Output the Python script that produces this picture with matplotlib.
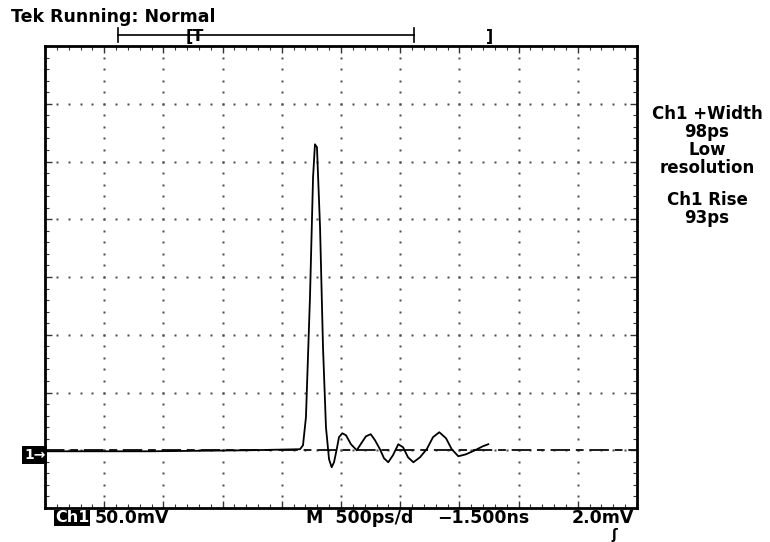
import numpy as np
import matplotlib
matplotlib.use('Agg')
import matplotlib.pyplot as plt
from matplotlib.lines import Line2D

# waveform: time (ns from left edge), amplitude (mV above ground)
time_ns = [0.0, 0.887, 1.731, 2.154, 2.179, 2.204, 2.238, 2.264, 2.280, 2.297,
           2.323, 2.348, 2.373, 2.399, 2.421, 2.441, 2.464, 2.483, 2.511, 2.542,
           2.584, 2.633, 2.677, 2.711, 2.751, 2.787, 2.829, 2.863, 2.899, 2.939,
           2.984, 3.024, 3.066, 3.111, 3.167, 3.224, 3.277, 3.330, 3.387, 3.435,
           3.491, 3.556, 3.632, 3.699, 3.744]
volt_mv = [-0.9, -0.9, 0.0, 0.9, 4.3, 28.6, 132.5, 236.4, 264.9, 262.3,
           193.1, 89.2, 19.9, -7.8, -14.7, -10.4, 0.9, 11.3, 14.7, 13.0,
           5.2, 0.0, 6.9, 12.1, 13.9, 8.7, 0.9, -6.9, -10.4, -4.3,
           5.2, 2.6, -6.1, -10.4, -6.1, 0.9, 11.3, 15.6, 10.4, 0.9,
           -5.2, -3.5, 0.0, 3.5, 5.2]

ns_per_div = 0.5
mv_per_div = 50.0
n_xdiv = 10
n_ydiv = 8
ground_mv = 0.0

W, H = 770, 542


def px(x, y):
    # pixel position -> figure fraction
    return x / W, 1 - y / H


fig = plt.figure(figsize=(W / 100, H / 100), dpi=100)
fig.patch.set_facecolor('white')
ax = fig.add_axes([45 / W, 1 - 508 / H, 592 / W, 462 / H])

x0, x1 = 0, n_xdiv * ns_per_div
y0, y1 = ground_mv - mv_per_div, ground_mv + (n_ydiv - 1) * mv_per_div
ax.set_xlim(x0, x1)
ax.set_ylim(y0, y1)

# dotted graticule
for i in range(1, n_xdiv):
    xs = i * ns_per_div
    ys = np.arange(y0, y1 + 0.1, mv_per_div / 5)
    ax.plot(np.full_like(ys, xs), ys, ls='none', marker='s', ms=1.8,
            color='0.3', mec='none')
for j in range(1, n_ydiv):
    ys = y0 + j * mv_per_div
    xs = np.arange(x0, x1 + 0.001, ns_per_div / 5)
    ax.plot(xs, np.full_like(xs, ys), ls='none', marker='s', ms=1.8,
            color='0.3', mec='none')

# ground reference + trace
ax.plot([x0, x1], [ground_mv, ground_mv], color='0.1', lw=1.4,
        dashes=(10, 3, 4, 3))
ax.plot(time_ns, volt_mv, color='black', lw=1.3)

ax.set_xticks(np.arange(x0, x1 + 0.001, ns_per_div))
ax.set_xticks(np.arange(x0, x1 + 0.001, ns_per_div / 5), minor=True)
ax.set_yticks(np.arange(y0, y1 + 0.1, mv_per_div))
ax.set_yticks(np.arange(y0, y1 + 0.1, mv_per_div / 5), minor=True)
ax.tick_params(which='both', direction='in', top=True, right=True,
               labelbottom=False, labelleft=False, color='0.2')
ax.tick_params(which='major', length=5, width=1)
ax.tick_params(which='minor', length=3, width=0.8)
for s in ax.spines.values():
    s.set_linewidth(2)

bold = dict(fontweight='bold', family='DejaVu Sans', color='black')

fig.text(*px(11, 17), 'Tek Running: Normal', fontsize=12.5, va='center', **bold)

# record / trigger position bar
fig.add_artist(Line2D([118 / W, 414 / W], [1 - 35 / H] * 2, color='black', lw=1.2))
for xb in (118, 414):
    fig.add_artist(Line2D([xb / W] * 2, [1 - 28 / H, 1 - 42 / H], color='black', lw=1.2))
fig.text(*px(186, 36), '[T', fontsize=11.5, va='center', **bold)
fig.text(*px(486, 36), ']', fontsize=11.5, va='center', **bold)

# measurements
fig.text(*px(707, 141), 'Ch1 +Width\n98ps\nLow\nresolution', fontsize=12,
         ha='center', va='center', linespacing=1.0, **bold)
fig.text(*px(707, 209), 'Ch1 Rise\n93ps', fontsize=12,
         ha='center', va='center', linespacing=1.0, **bold)

# ground marker
fig.text(*px(24, 455), '1\u2192', fontsize=10, va='center', color='white',
         fontweight='bold', bbox=dict(boxstyle='square,pad=0.15', fc='black', ec='none'))

# bottom readouts
fig.text(*px(55, 518), 'Ch1', fontsize=11.5, va='center', color='white',
         fontweight='bold', bbox=dict(boxstyle='square,pad=0.05', fc='black', ec='none'))
fig.text(*px(95, 518), '50.0mV', fontsize=12.5, va='center', **bold)
fig.text(*px(306, 518), 'M  500ps/d', fontsize=12.5, va='center', **bold)
fig.text(*px(437, 518), '\u22121.500ns', fontsize=12.5, va='center', **bold)
fig.text(*px(572, 518), '2.0mV', fontsize=12.5, va='center', **bold)
fig.text(*px(614, 535), '\u0283', fontsize=10, ha='center', va='center', **bold)

fig.savefig('out.png', dpi=100)
